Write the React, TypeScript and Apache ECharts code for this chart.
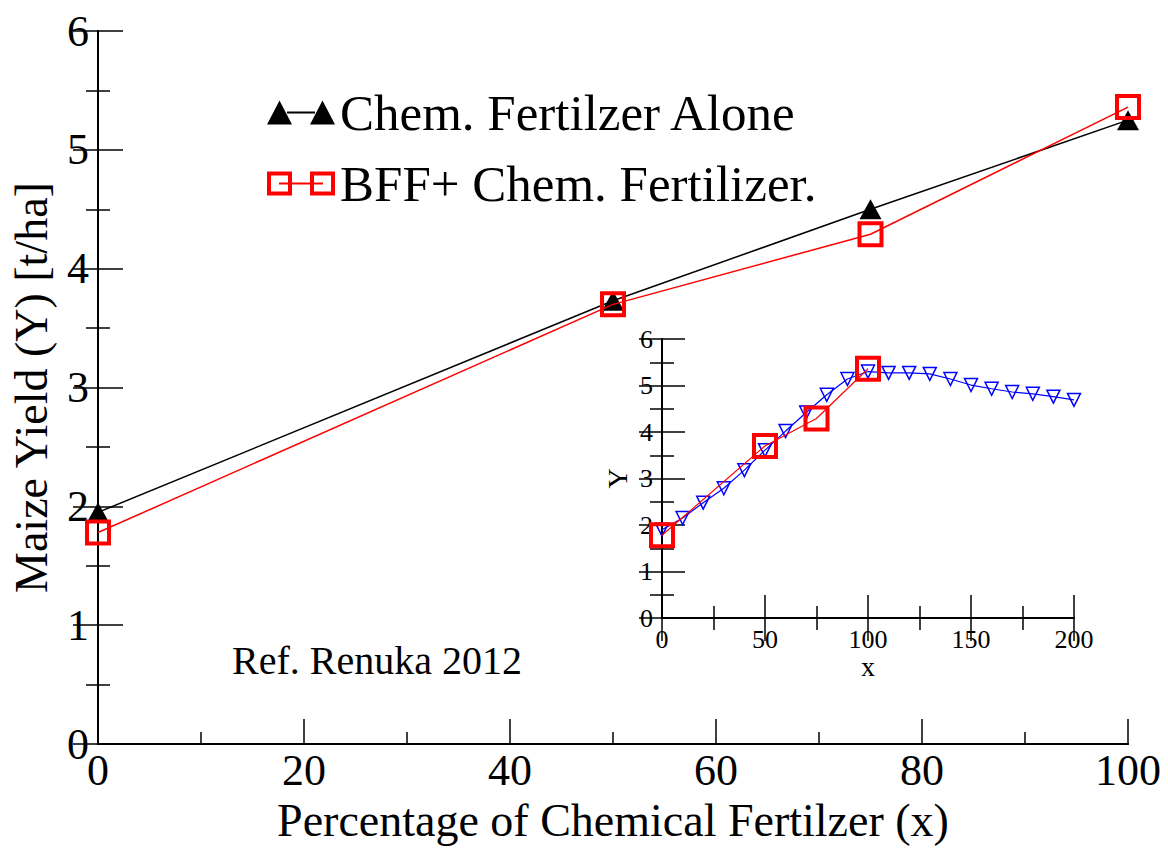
import React, { useEffect, useRef } from "react";
import * as echarts from "echarts";

const FONT = "Liberation Serif";

// Main chart data
const mainX = [0, 50, 75, 100];
const chemAlone = [1.95, 3.73, 4.5, 5.25];
const bffChem = [1.78, 3.7, 4.29, 5.36];

// Inset data
const insetX = [0, 10, 20, 30, 40, 50, 60, 70, 80, 90, 100, 110, 120, 130, 140, 150, 160, 170, 180, 190, 200];
const insetModel = [1.9, 2.15, 2.48, 2.79, 3.18, 3.61, 4.02, 4.42, 4.8, 5.14, 5.3, 5.27, 5.27, 5.25, 5.14, 5.01, 4.93, 4.86, 4.82, 4.76, 4.69];

const seriesNames = ["Chem. Fertilzer Alone", "BFF+ Chem. Fertilizer."];
const xTitle = "Percentage of Chemical Fertilzer (x)";
const yTitle = "Maize Yield (Y) [t/ha]";
const refText = "Ref. Renuka 2012";

const pairs = (xs: number[], ys: number[]) => xs.map((x, i) => [x, ys[i]]);

const triIcon =
  "path://M0 24 L12.5 0 L25 24 Z M20 11 L48 11 L48 13 L20 13 Z M43 24 L55.5 0 L68 24 Z";
const sqIcon =
  "path://M0 0 L25 0 L25 24 L0 24 Z M4 4 L4 20 L21 20 L21 4 Z M12 11 L56 11 L56 13 L12 13 Z M43 0 L68 0 L68 24 L43 24 Z M47 4 L47 20 L64 20 L64 4 Z";

export default function App() {
  const ref = useRef<HTMLDivElement>(null);
  useEffect(() => {
    if (!ref.current) return;
    const chart = echarts.init(ref.current, null, { renderer: "svg" });
    const axisLine = { show: true, lineStyle: { color: "#000", width: 2 } };
    const mainTick = { show: true, inside: true, length: 25, lineStyle: { color: "#000", width: 1.5 } };
    const mainMinor = { show: true, splitNumber: 2, length: 12, lineStyle: { color: "#000", width: 1.5 } };
    const insetTick = { show: true, inside: true, length: 23, lineStyle: { color: "#000", width: 1.5 } };
    const insetMinor = { show: true, splitNumber: 2, length: 12, lineStyle: { color: "#000", width: 1.5 } };
    const noSplit = { show: false };

    chart.setOption({
      animation: false,
      backgroundColor: "#fff",
      textStyle: { fontFamily: FONT },
      grid: [
        { left: 98, right: 40, top: 31, bottom: 97, containLabel: false },
        { left: 662, width: 412, top: 339, height: 279, show: true, backgroundColor: "#fff", borderWidth: 0, containLabel: false },
      ],
      legend: {
        orient: "vertical",
        left: 262,
        top: 82,
        itemWidth: 68,
        itemHeight: 24,
        itemGap: 20,
        selectedMode: false,
        textStyle: { fontFamily: FONT, fontSize: 51, color: "#000", lineHeight: 50 },
        data: [
          { name: seriesNames[0], icon: triIcon, itemStyle: { color: "#000", borderWidth: 0, borderColor: "transparent" } },
          { name: seriesNames[1], icon: sqIcon, itemStyle: { color: "#ff0000", borderWidth: 0, borderColor: "transparent" } },
        ],
      },
      xAxis: [
        {
          type: "value", gridIndex: 0, position: "bottom", min: 0, max: 100, interval: 20,
          axisLine, axisTick: mainTick, minorTick: mainMinor, splitLine: noSplit, minorSplitLine: noSplit,
          axisLabel: { fontFamily: FONT, fontSize: 44, color: "#000", margin: 4 },
          name: xTitle, nameLocation: "middle", nameGap: 52,
          nameTextStyle: { fontFamily: FONT, fontSize: 46, color: "#000" },
        },
        {
          type: "value", gridIndex: 0, position: "top", min: 0, max: 100, interval: 20,
          axisLine, axisTick: { show: false }, minorTick: { show: false }, splitLine: noSplit, minorSplitLine: noSplit,
          axisLabel: { show: false },
        },
        {
          type: "value", gridIndex: 1, position: "bottom", min: 0, max: 200, interval: 50,
          axisLine, axisTick: insetTick, minorTick: insetMinor, splitLine: noSplit, minorSplitLine: noSplit,
          axisLabel: { fontFamily: FONT, fontSize: 26, color: "#000", margin: 8 },
          name: "x", nameLocation: "middle", nameGap: 30,
          nameTextStyle: { fontFamily: FONT, fontSize: 28, color: "#000" },
        },
        {
          type: "value", gridIndex: 1, position: "top", min: 0, max: 200, interval: 50,
          axisLine, axisTick: insetTick, minorTick: insetMinor, splitLine: noSplit, minorSplitLine: noSplit,
          axisLabel: { show: false },
        },
      ],
      yAxis: [
        {
          type: "value", gridIndex: 0, position: "left", min: 0, max: 6, interval: 1,
          axisLine, axisTick: mainTick, minorTick: mainMinor, splitLine: noSplit, minorSplitLine: noSplit,
          axisLabel: { fontFamily: FONT, fontSize: 44, color: "#000", margin: 9 },
          name: yTitle, nameLocation: "middle", nameGap: 44, nameRotate: 90,
          nameTextStyle: { fontFamily: FONT, fontSize: 46, color: "#000" },
        },
        {
          type: "value", gridIndex: 0, position: "right", min: 0, max: 6, interval: 1,
          axisLine, axisTick: mainTick, minorTick: mainMinor, splitLine: noSplit, minorSplitLine: noSplit,
          axisLabel: { show: false },
        },
        {
          type: "value", gridIndex: 1, position: "left", min: 0, max: 6, interval: 1,
          axisLine, axisTick: insetTick, minorTick: insetMinor, splitLine: noSplit, minorSplitLine: noSplit,
          axisLabel: { fontFamily: FONT, fontSize: 26, color: "#000", margin: 9 },
          name: "Y", nameLocation: "middle", nameGap: 31, nameRotate: 90,
          nameTextStyle: { fontFamily: FONT, fontSize: 28, color: "#000" },
        },
        {
          type: "value", gridIndex: 1, position: "right", min: 0, max: 6, interval: 1,
          axisLine, axisTick: insetTick, minorTick: insetMinor, splitLine: noSplit, minorSplitLine: noSplit,
          axisLabel: { show: false },
        },
      ],
      graphic: [
        {
          type: "text", left: 232, top: 640,
          style: { text: refText, fontFamily: FONT, fontSize: 40, fill: "#000" },
        },
      ],
      series: [
        {
          name: seriesNames[0], type: "line", xAxisIndex: 0, yAxisIndex: 0,
          data: pairs(mainX, chemAlone),
          symbol: "triangle", symbolSize: [22, 20],
          lineStyle: { color: "#000", width: 1.5 },
          itemStyle: { color: "#000" },
          z: 3,
        },
        {
          name: seriesNames[1], type: "line", xAxisIndex: 0, yAxisIndex: 0,
          data: pairs(mainX, bffChem),
          symbol: "rect", symbolSize: 22,
          lineStyle: { color: "#ff0000", width: 1.5 },
          itemStyle: { color: "rgba(0,0,0,0)", borderColor: "#ff0000", borderWidth: 4 },
          z: 4,
        },
        {
          name: "Model (inset)", type: "line", xAxisIndex: 2, yAxisIndex: 2,
          data: pairs(insetX, insetModel),
          symbol: "triangle", symbolRotate: 180, symbolSize: 13,
          lineStyle: { color: "#0000ff", width: 1.2 },
          itemStyle: { color: "rgba(0,0,0,0)", borderColor: "#0000ff", borderWidth: 1.5 },
          z: 5,
        },
        {
          name: "BFF (inset)", type: "line", xAxisIndex: 2, yAxisIndex: 2,
          data: pairs(mainX, bffChem),
          symbol: "rect", symbolSize: 22,
          lineStyle: { color: "#ff0000", width: 1.2 },
          itemStyle: { color: "rgba(0,0,0,0)", borderColor: "#ff0000", borderWidth: 4 },
          z: 6,
        },
      ],
    });
    return () => chart.dispose();
  }, []);
  return <div ref={ref} style={{ width: 1168, height: 848, position: "absolute", left: 0, top: 0 }} />;
}
